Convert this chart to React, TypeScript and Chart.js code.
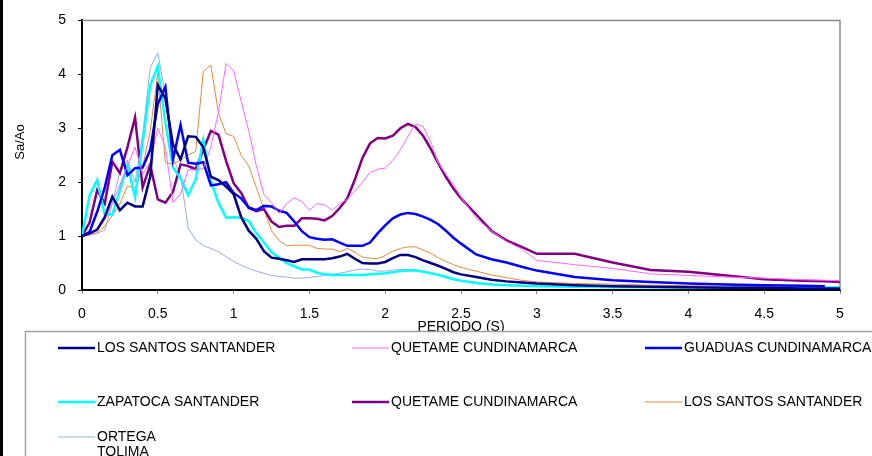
import { useEffect, useRef } from 'react';
import { Chart, registerables } from 'chart.js';

Chart.register(...registerables);

const FONT = 'Liberation Sans, Arial, Helvetica, sans-serif';

const xTitle = 'PERIODO (S)';
const yTitle = 'Sa/Ao';

const periods = [
  0, 0.05, 0.1, 0.15, 0.2, 0.25, 0.3, 0.35, 0.4, 0.45,
  0.5, 0.55, 0.6, 0.65, 0.7, 0.75, 0.8, 0.85, 0.9, 0.95,
  1.0, 1.05, 1.1, 1.15, 1.2, 1.25, 1.3, 1.35, 1.4, 1.45,
  1.5, 1.55, 1.6, 1.65, 1.7, 1.75, 1.8, 1.85, 1.9, 1.95,
  2.0, 2.05, 2.1, 2.15, 2.2, 2.25, 2.3, 2.35, 2.4, 2.45,
  2.5, 2.6, 2.7, 2.8, 2.9, 3.0, 3.25, 3.5, 3.75, 4.0,
  4.25, 4.5, 4.75, 4.9, 5.0,
];

const losSantos1 = [
  1.0, 1.05, 1.12, 1.35, 1.73, 1.48, 1.62, 1.55, 1.55, 2.1,
  3.8, 3.55, 2.7, 2.42, 2.85, 2.84, 2.65, 2.1, 2.04, 1.92,
  1.78, 1.35, 1.1, 0.95, 0.72, 0.6, 0.58, 0.55, 0.52, 0.57,
  0.57, 0.57, 0.57, 0.59, 0.62, 0.67, 0.58, 0.5, 0.49, 0.49,
  0.52, 0.59, 0.65, 0.65, 0.61, 0.55, 0.5, 0.45, 0.39, 0.33,
  0.29, 0.24, 0.19, 0.16, 0.14, 0.12, 0.09, 0.07, 0.06, 0.05,
  0.04, 0.04, 0.03, 0.03, 0.03,
];

const quetame1 = [
  1.0, 1.02, 1.1, 1.3, 1.6, 1.95, 2.3, 2.65, 2.15, 2.38,
  3.0, 2.65, 1.62, 1.78, 2.23, 2.23, 2.25, 2.65, 3.3, 4.2,
  4.07, 3.5, 2.95, 2.3, 1.77, 1.62, 1.42, 1.6, 1.71, 1.64,
  1.48, 1.6, 1.58, 1.48, 1.6, 1.68, 1.84, 2.0, 2.18, 2.24,
  2.26, 2.4, 2.6, 2.85, 3.08, 3.03, 2.75, 2.35, 2.15, 1.95,
  1.72, 1.33, 1.1, 0.9, 0.76, 0.55, 0.47, 0.4, 0.3, 0.27,
  0.24, 0.22, 0.19, 0.18, 0.17,
];

const guaduas = [
  1.0, 1.08, 1.45, 1.9, 2.5, 2.6, 2.13, 2.26, 2.27, 2.6,
  3.45, 3.77, 2.42, 3.06, 2.36, 2.34, 2.37, 1.94, 1.96, 2.0,
  1.8, 1.7, 1.53, 1.48, 1.56, 1.55, 1.47, 1.43, 1.27, 1.09,
  0.98, 0.95, 0.93, 0.94, 0.88, 0.82, 0.82, 0.82, 0.88, 1.05,
  1.2, 1.33, 1.4, 1.43, 1.41, 1.36, 1.3, 1.22, 1.1, 0.97,
  0.86, 0.66, 0.57, 0.51, 0.43, 0.36, 0.24, 0.18, 0.15, 0.12,
  0.1, 0.09, 0.08, 0.07, null,
];

const zapatoca = [
  1.0, 1.76, 2.04, 1.4, 1.4, 1.85, 2.32, 1.72, 2.75, 3.8,
  4.15, 3.1, 2.27, 2.07, 1.76, 2.05, 2.78, 2.02, 1.62, 1.34,
  1.35, 1.34, 1.28, 1.05, 0.88, 0.7, 0.6, 0.5, 0.44, 0.38,
  0.38, 0.32, 0.29, 0.28, 0.28, 0.28, 0.28, 0.28, 0.29, 0.3,
  0.31, 0.33, 0.35, 0.36, 0.36, 0.34, 0.31, 0.28, 0.24, 0.2,
  0.17, 0.13, 0.1, 0.09, 0.08, 0.07, 0.06, 0.05, 0.05, 0.04,
  0.04, 0.04, 0.04, 0.04, 0.05,
];

const quetame2 = [
  1.0, 1.25, 1.85, 1.6, 2.38, 2.17, 2.65, 3.2, 1.9, 2.32,
  1.68, 1.62, 1.82, 2.33, 2.3, 2.24, 2.6, 2.95, 2.88, 2.4,
  1.98, 1.8, 1.52, 1.46, 1.5, 1.27, 1.17, 1.19, 1.19, 1.33,
  1.33, 1.32, 1.29, 1.37, 1.52, 1.7, 2.05, 2.45, 2.72, 2.82,
  2.81, 2.86, 3.0, 3.08, 3.02, 2.86, 2.62, 2.35, 2.1, 1.88,
  1.7, 1.4, 1.1, 0.92, 0.8, 0.67, 0.67, 0.51, 0.37, 0.34,
  0.27, 0.2, 0.17, 0.16, 0.15,
];

const losSantos2 = [
  1.0, 1.02, 1.06, 1.18, 1.38, 1.6, 1.93, 1.89, 2.27, 2.95,
  4.02, 2.36, 2.34, 2.41, 2.5, 2.57, 4.05, 4.17, 3.28, 2.9,
  2.85, 2.5, 2.3, 1.9, 1.5, 1.1, 0.92, 0.82, 0.83, 0.83,
  0.83, 0.77, 0.76, 0.76, 0.71, 0.77, 0.7, 0.61, 0.59, 0.58,
  0.64, 0.72, 0.77, 0.8, 0.8, 0.74, 0.68, 0.6, 0.53, 0.47,
  0.42, 0.35, 0.28, 0.23, 0.18, 0.15, 0.12, 0.11, 0.09, 0.08,
  0.07, 0.06, 0.05, 0.05, 0.05,
];

const ortega = [
  1.0, 1.02, 1.05, 1.11, 1.6, 2.2, 2.41, 2.0, 2.88, 4.12,
  4.4, 3.6, 2.45, 2.13, 1.15, 0.93, 0.82, 0.77, 0.71, 0.62,
  0.53, 0.46, 0.4, 0.35, 0.31, 0.27, 0.25, 0.24, 0.22, 0.22,
  0.23, 0.25, 0.27, 0.29, 0.31, 0.34, 0.37, 0.39, 0.38, 0.35,
  0.35, 0.37, 0.38, 0.38, 0.38, 0.35, 0.3, 0.27, 0.23, 0.2,
  0.17, 0.13, 0.1, 0.09, 0.08, 0.07, 0.06, 0.05, 0.04, 0.04,
  0.04, 0.03, 0.03, 0.03, 0.03,
];

const seriesLabels = [
  'LOS SANTOS SANTANDER',
  'QUETAME CUNDINAMARCA',
  'GUADUAS CUNDINAMARCA',
  'ZAPATOCA SANTANDER',
  'QUETAME CUNDINAMARCA',
  'LOS SANTOS SANTANDER',
  'ORTEGA\nTOLIMA',
];
const seriesValues = [losSantos1, quetame1, guaduas, zapatoca, quetame2, losSantos2, ortega];
const seriesColors = ['#000080', '#FF66FF', '#0000FF', '#00FFFF', '#800080', '#E38B3B', '#96AEDA'];
const seriesWidths = [2.5, 1, 2.5, 2.5, 2.5, 1, 1];

const legendCols = [58, 352, 645];
const legendRows = [348, 402, 437];

const decorPlugin = {
  id: 'decor',
  beforeDatasetsDraw(chart: any) {
    const { ctx, chartArea } = chart;
    ctx.save();
    ctx.strokeStyle = '#8a8a8a';
    ctx.lineWidth = 1.5;
    ctx.beginPath();
    ctx.moveTo(chartArea.left, chartArea.top);
    ctx.lineTo(chartArea.right, chartArea.top);
    ctx.lineTo(chartArea.right, chartArea.bottom);
    ctx.stroke();
    ctx.restore();
  },
  afterDraw(chart: any) {
    const { ctx, width, height } = chart;
    ctx.save();
    ctx.fillStyle = '#000';
    ctx.font = `13px ${FONT}`;
    ctx.textAlign = 'center';
    ctx.textBaseline = 'middle';
    ctx.translate(20, 142);
    ctx.rotate(-Math.PI / 2);
    ctx.fillText(yTitle, 0, 0);
    ctx.restore();

    ctx.save();
    ctx.fillStyle = '#fff';
    ctx.fillRect(25, 331, width - 25, height - 331);
    ctx.strokeStyle = '#a0a0a0';
    ctx.lineWidth = 1.5;
    ctx.strokeRect(25.5, 331.5, width + 10, height);
    ctx.font = `14px ${FONT}`;
    ctx.textAlign = 'left';
    ctx.textBaseline = 'middle';
    chart.data.datasets.forEach((ds: any, i: number) => {
      const cx = legendCols[i % 3];
      const cy = legendRows[Math.floor(i / 3)];
      ctx.strokeStyle = ds.borderColor;
      ctx.lineWidth = ds.borderWidth;
      ctx.beginPath();
      ctx.moveTo(cx, cy);
      ctx.lineTo(cx + 37, cy);
      ctx.stroke();
      ctx.fillStyle = '#000';
      String(ds.label).split('\n').forEach((ln: string, k: number) => {
        ctx.fillText(ln, cx + 39, cy + k * 15);
      });
    });
    ctx.restore();

    ctx.save();
    ctx.fillStyle = '#000';
    ctx.fillRect(0, 0, 3, height);
    ctx.restore();
  },
};

export default function App() {
  const ref = useRef<HTMLCanvasElement | null>(null);

  useEffect(() => {
    const canvas = ref.current;
    if (!canvas) return;
    const datasets = seriesValues.map((vals, i) => ({
      label: seriesLabels[i],
      data: periods
        .map((p, k) => ({ x: p, y: vals[k] }))
        .filter((pt) => pt.y !== null && pt.y !== undefined),
      borderColor: seriesColors[i],
      backgroundColor: seriesColors[i],
      borderWidth: seriesWidths[i],
      pointRadius: 0,
      tension: 0,
      fill: false,
    }));
    const chart = new Chart(canvas, {
      type: 'line',
      data: { datasets } as any,
      options: {
        animation: false,
        responsive: false,
        devicePixelRatio: 1,
        layout: { padding: { left: 0, right: 32, top: 19, bottom: 120 } },
        plugins: { legend: { display: false }, tooltip: { enabled: false } },
        scales: {
          x: {
            type: 'linear',
            min: 0,
            max: 5,
            ticks: {
              stepSize: 0.5,
              color: '#000',
              font: { family: FONT, size: 14 },
              padding: 12,
              maxRotation: 0,
              autoSkip: false,
              callback: (v: any) => String(Math.round(Number(v) * 10) / 10),
            },
            grid: { drawOnChartArea: false, drawTicks: true, tickLength: 4, color: '#888' },
            border: { display: true, color: '#000', width: 2 },
            title: {
              display: true,
              text: xTitle,
              color: '#000',
              font: { family: FONT, size: 14 },
              padding: 0,
            },
            afterFit: (s: any) => {
              s.height = 46;
            },
          },
          y: {
            type: 'linear',
            min: 0,
            max: 5,
            ticks: {
              stepSize: 1,
              color: '#000',
              font: { family: FONT, size: 14 },
              padding: 12,
            },
            grid: { drawOnChartArea: false, drawTicks: true, tickLength: 4, color: '#000' },
            border: { display: true, color: '#000', width: 2 },
            afterFit: (s: any) => {
              s.width = 82;
            },
          },
        },
      } as any,
      plugins: [decorPlugin],
    });
    return () => chart.destroy();
  }, []);

  return (
    <div style={{ position: 'fixed', left: 0, top: 0, width: 872, height: 456, background: '#fff' }}>
      <canvas ref={ref} width={872} height={456} style={{ display: 'block' }} />
    </div>
  );
}
